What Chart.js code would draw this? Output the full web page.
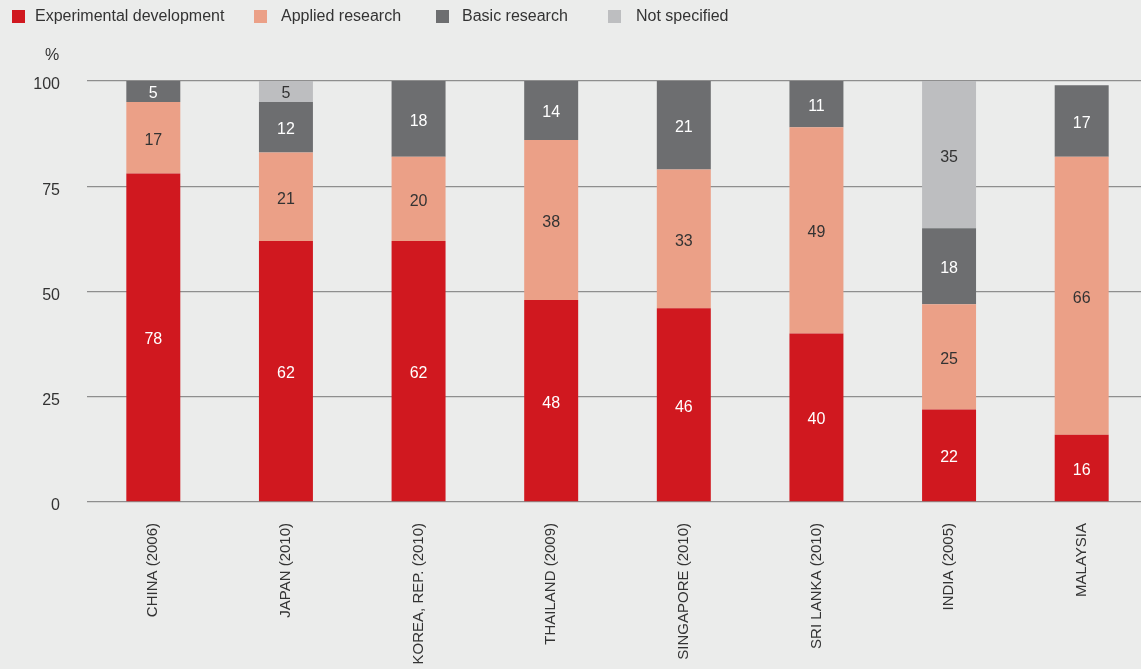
<!DOCTYPE html>
<html>
<head>
<meta charset="utf-8">
<script src="https://cdn.jsdelivr.net/npm/chart.js@4/dist/chart.umd.min.js"></script>
<style>
  html, body { margin: 0; padding: 0; background: #ebeceb; overflow: hidden; width: 1141px; height: 669px; }
  #wrap { position: absolute; left: 0; top: 0; width: 1148px; height: 669px; }
  canvas { display: block; }
  .lg { position: absolute; font: 16px "Liberation Sans", Arial, Helvetica, sans-serif; color: #333; line-height: 18px; white-space: nowrap; }
  .sw { position: absolute; width: 13px; height: 13px; top: 10px; }
</style>
</head>
<body>
<div id="wrap">
  <canvas id="c" width="1148" height="669"></canvas>
</div>
<div id="legend"></div>
<div class="lg" style="left:45px; top:46px;">%</div>
<script>
// R&D expenditure by type of research, % share per country
const categories = ['CHINA (2006)', 'JAPAN (2010)', 'KOREA, REP. (2010)', 'THAILAND (2009)',
                    'SINGAPORE (2010)', 'SRI LANKA (2010)', 'INDIA (2005)', 'MALAYSIA'];
const experimental = [78, 62, 62, 48, 46, 40, 22, 16];
const applied      = [17, 21, 20, 38, 33, 49, 25, 66];
const basic        = [5, 12, 18, 14, 21, 11, 18, 17];
const notSpecified = [null, 5, null, null, null, null, 35, null];
const yTicks = [0, 25, 50, 75, 100];

const seriesNames = ['Experimental development', 'Applied research', 'Basic research', 'Not specified'];
const colors = ['#d0181f', '#eba087', '#6d6e70', '#bdbec0'];
const labelColors = ['#ffffff', '#333333', '#ffffff', '#333333'];

// HTML legend
const legendPos = [[12, 35], [254, 281], [436, 462], [608, 636]];
const legend = document.getElementById('legend');
seriesNames.forEach((name, i) => {
  const sw = document.createElement('div');
  sw.className = 'sw';
  sw.style.left = legendPos[i][0] + 'px';
  sw.style.background = colors[i];
  legend.appendChild(sw);
  const t = document.createElement('div');
  t.className = 'lg';
  t.style.left = legendPos[i][1] + 'px';
  t.style.top = '7px';
  t.textContent = name;
  legend.appendChild(t);
});

// Value labels in the middle of each segment
const segmentLabels = {
  id: 'segmentLabels',
  afterDatasetsDraw(chart) {
    const ctx = chart.ctx;
    ctx.save();
    ctx.font = '16px "Liberation Sans", Arial, Helvetica, sans-serif';
    ctx.textAlign = 'center';
    ctx.textBaseline = 'middle';
    chart.data.datasets.forEach((ds, di) => {
      const meta = chart.getDatasetMeta(di);
      meta.data.forEach((bar, i) => {
        const v = ds.data[i];
        if (v === null || v === 0) return;
        ctx.fillStyle = labelColors[di];
        ctx.fillText(String(v), bar.x, (bar.y + bar.base) / 2 + 2.5);
      });
    });
    ctx.restore();
  }
};

const datasetValues = [experimental, applied, basic, notSpecified];

new Chart(document.getElementById('c'), {
  type: 'bar',
  data: {
    labels: categories,
    datasets: datasetValues.map((vals, i) => ({
      label: seriesNames[i],
      data: vals,
      backgroundColor: colors[i],
      borderWidth: 0,
      categoryPercentage: 1,
      barPercentage: 0.407
    }))
  },
  options: {
    responsive: false,
    animation: false,
    devicePixelRatio: 1,
    layout: { padding: { top: 81, left: 0, right: 0, bottom: 0 } },
    plugins: { legend: { display: false }, tooltip: { enabled: false } },
    scales: {
      x: {
        stacked: true,
        grid: { display: false },
        border: { display: false },
        ticks: {
          color: '#333',
          font: { family: '"Liberation Sans", Arial, Helvetica, sans-serif', size: 15 },
          minRotation: 90,
          maxRotation: 90,
          padding: 13,
          autoSkip: false
        },
        afterFit(axis) { axis.height = 167; }
      },
      y: {
        stacked: true,
        min: 0,
        max: 100,
        afterBuildTicks(axis) { axis.ticks = yTicks.map(v => ({ value: v })); },
        grid: { color: '#8e8e8e', lineWidth: 1.3, drawTicks: false },
        border: { display: false },
        ticks: {
          color: '#333',
          font: { family: '"Liberation Sans", Arial, Helvetica, sans-serif', size: 16 },
          padding: 27,
          labelOffset: 4
        },
        afterFit(axis) { axis.width = 87; }
      }
    }
  },
  plugins: [segmentLabels]
});
</script>
</body>
</html>
